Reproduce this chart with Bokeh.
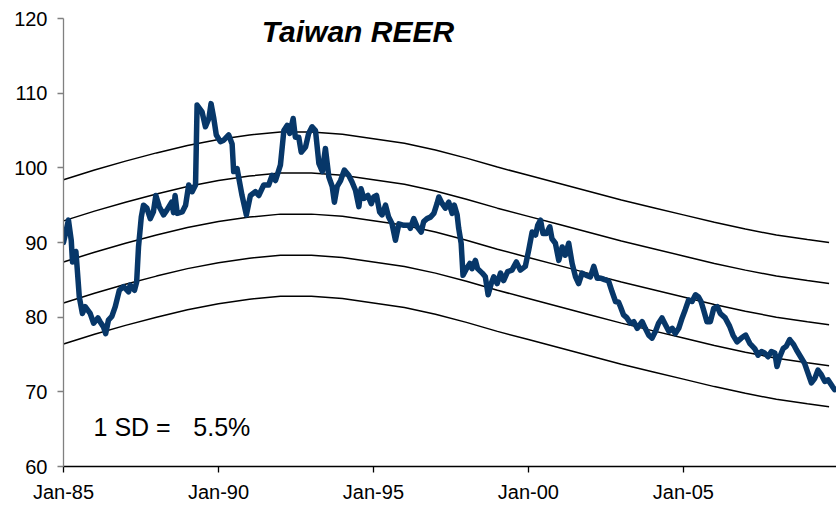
import numpy as np
from bokeh.plotting import figure
from bokeh.models import FixedTicker, Label, Range1d
from bokeh.embed import file_html
from bokeh.resources import INLINE

# ---- data -------------------------------------------------------------
reer_dates = [
    1985.00, 1985.16, 1985.25, 1985.29, 1985.40, 1985.43, 1985.51, 1985.61, 1985.70, 1985.86,
    1985.97, 1986.11, 1986.18, 1986.29, 1986.36, 1986.45, 1986.56, 1986.67, 1986.80, 1986.94,
    1987.10, 1987.15, 1987.29, 1987.36, 1987.42, 1987.51, 1987.58, 1987.69, 1987.80, 1987.90,
    1987.98, 1988.09, 1988.23, 1988.33, 1988.49, 1988.55, 1988.60, 1988.67, 1988.83, 1988.94,
    1989.04, 1989.15, 1989.26, 1989.31, 1989.47, 1989.58, 1989.69, 1989.76, 1989.85, 1989.93,
    1990.06, 1990.17, 1990.33, 1990.44, 1990.49, 1990.60, 1990.76, 1990.90, 1991.03, 1991.19,
    1991.30, 1991.46, 1991.62, 1991.73, 1991.84, 1992.00, 1992.11, 1992.22, 1992.30, 1992.41,
    1992.48, 1992.59, 1992.67, 1992.81, 1992.91, 1993.02, 1993.13, 1993.24, 1993.35, 1993.45,
    1993.56, 1993.67, 1993.74, 1993.83, 1993.94, 1994.06, 1994.20, 1994.31, 1994.42, 1994.53,
    1994.60, 1994.69, 1994.82, 1994.93, 1995.01, 1995.10, 1995.20, 1995.28, 1995.39, 1995.49,
    1995.60, 1995.71, 1995.82, 1995.98, 1996.14, 1996.19, 1996.30, 1996.41, 1996.54, 1996.62,
    1996.73, 1996.84, 1996.95, 1997.05, 1997.11, 1997.22, 1997.32, 1997.43, 1997.54, 1997.61,
    1997.70, 1997.75, 1997.83, 1997.89, 1998.00, 1998.11, 1998.18, 1998.29, 1998.36, 1998.51,
    1998.61, 1998.70, 1998.80, 1998.88, 1998.99, 1999.10, 1999.20, 1999.33, 1999.47, 1999.61,
    1999.74, 1999.90, 2000.01, 2000.12, 2000.23, 2000.30, 2000.39, 2000.47, 2000.58, 2000.69,
    2000.76, 2000.87, 2000.98, 2001.09, 2001.19, 2001.30, 2001.41, 2001.52, 2001.62, 2001.73,
    2001.87, 2002.00, 2002.11, 2002.22, 2002.35, 2002.48, 2002.59, 2002.70, 2002.81, 2002.91,
    2002.97, 2003.07, 2003.18, 2003.29, 2003.40, 2003.51, 2003.67, 2003.77, 2003.88, 2003.99,
    2004.10, 2004.20, 2004.31, 2004.42, 2004.53, 2004.64, 2004.74, 2004.85, 2004.96, 2005.06,
    2005.17, 2005.28, 2005.39, 2005.49, 2005.57, 2005.65, 2005.76, 2005.87, 2005.98, 2006.09,
    2006.19, 2006.35, 2006.49, 2006.60, 2006.73, 2006.87, 2007.01, 2007.14, 2007.30, 2007.41,
    2007.52, 2007.62, 2007.73, 2007.84, 2007.95, 2008.02, 2008.11, 2008.22, 2008.32, 2008.43,
    2008.56, 2008.65, 2008.81, 2008.91, 2009.02, 2009.13, 2009.24, 2009.34, 2009.45, 2009.56,
    2009.67, 2009.81, 2009.88,
]
reer_values = [
    90.0, 93.0, 90.3, 87.4, 88.8, 87.2, 82.7, 80.5, 81.4, 80.5,
    79.2, 79.9, 79.4, 78.7, 77.8, 79.6, 80.1, 81.4, 83.6, 84.1,
    83.4, 84.3, 83.6, 84.7, 89.4, 93.4, 95.0, 94.6, 93.2, 94.1,
    96.3, 94.8, 93.7, 94.3, 95.4, 94.0, 96.3, 93.9, 94.1, 95.0,
    97.7, 96.8, 97.7, 108.4, 107.5, 105.5, 106.6, 108.6, 106.6, 104.4,
    103.5, 103.7, 104.4, 103.2, 99.5, 99.9, 96.3, 93.7, 96.3, 96.8,
    96.3, 97.7, 97.7, 99.0, 98.3, 100.4, 105.0, 105.7, 104.6, 106.6,
    104.1, 104.1, 102.1, 102.8, 104.6, 105.5, 105.0, 100.6, 99.5, 102.6,
    98.8, 97.5, 95.4, 97.5, 98.3, 99.7, 99.0, 98.1, 97.0, 94.8,
    97.2, 95.9, 96.3, 95.2, 96.1, 96.3, 94.1, 93.7, 95.0, 93.4,
    92.5, 90.3, 92.5, 92.3, 92.3, 91.9, 93.2, 92.1, 91.4, 92.8,
    93.2, 93.4, 93.9, 95.2, 96.1, 95.2, 94.6, 95.4, 93.9, 95.0,
    93.7, 91.9, 89.9, 85.6, 86.5, 87.2, 86.5, 87.6, 86.5, 85.9,
    85.4, 83.0, 84.5, 85.4, 84.5, 85.9, 84.9, 86.1, 86.3, 87.4,
    86.3, 86.8, 89.0, 91.4, 91.0, 92.3, 93.0, 91.2, 91.2, 92.1,
    90.5, 89.9, 87.6, 89.4, 88.3, 89.9, 87.2, 85.4, 84.5, 85.9,
    85.6, 85.4, 86.8, 85.2, 85.2, 85.0, 84.8, 83.4, 82.1, 82.0,
    81.4, 80.3, 79.9, 79.2, 79.4, 78.5, 79.4, 78.5, 77.6, 77.2,
    78.1, 79.2, 79.9, 79.0, 78.1, 78.5, 77.8, 78.5, 79.9, 81.0,
    82.3, 82.1, 83.0, 82.7, 82.1, 81.0, 79.4, 79.4, 81.2, 81.4,
    80.5, 79.9, 78.8, 77.6, 76.7, 77.2, 77.6, 76.5, 75.8, 74.9,
    75.4, 75.2, 74.7, 75.4, 75.2, 73.4, 74.7, 75.8, 76.1, 77.0,
    76.3, 75.6, 74.5, 73.8, 72.5, 71.2, 71.8, 72.9, 72.3, 71.4,
    71.6, 70.7, 70.3,
]

# long-run trend (centre of the bands) and the standard deviation
trend_dates = [1985, 1986, 1987, 1988, 1989, 1990, 1991, 1992, 1993, 1994, 1995, 1996, 1997,
               1998, 1999, 2000, 2001, 2002, 2003, 2004, 2005, 2006, 2007, 2008, 2009, 2009.7]
trend_values = [87.4, 88.7, 89.9, 91.0, 92.0, 92.8, 93.4, 93.8, 93.8, 93.5, 92.9, 92.3, 91.4,
                90.3, 89.1, 88.0, 86.9, 85.8, 84.7, 83.7, 82.7, 81.7, 80.8, 80.0, 79.4, 79.0]
sd = 5.5
band_multiples = [-2, -1, 0, 1, 2]

tick_years = [1985, 1990, 1995, 2000, 2005]
tick_labels = ["Jan-85", "Jan-90", "Jan-95", "Jan-00", "Jan-05"]
y_ticks = [60, 70, 80, 90, 100, 110, 120]

title_text = "Taiwan REER"

# ---- figure -----------------------------------------------------------
FONT = "Liberation Sans"

p = figure(width=836, height=505, output_backend="svg", toolbar_location=None,
           x_range=Range1d(1985, 2009.94), y_range=Range1d(60, 120),
           min_border_left=63, min_border_right=0, min_border_top=18, min_border_bottom=38)
p.outline_line_color = None
p.background_fill_color = "white"
p.border_fill_color = "white"
p.xgrid.visible = False
p.ygrid.visible = False

# bands
tc = np.array(trend_values)
for k in band_multiples:
    p.line(trend_dates, tc + k * sd, line_color="black", line_width=1.5)

# REER series
p.line(reer_dates, reer_values, line_color="#073769", line_width=5.5, line_join="round",
       line_cap="round")

# axes
p.xaxis.ticker = FixedTicker(ticks=tick_years)
p.xaxis.major_label_overrides = {t: l for t, l in zip(tick_years, tick_labels)}
p.yaxis.ticker = FixedTicker(ticks=y_ticks)
for ax in (p.xaxis[0], p.yaxis[0]):
    ax.major_label_text_font = FONT
    ax.major_label_text_font_size = "20px"
    ax.major_label_text_color = "black"
    ax.minor_tick_line_color = None
    ax.major_tick_in = 0
    ax.major_tick_out = 6
    ax.axis_line_width = 1.3
    ax.major_tick_line_width = 1.3
p.xaxis.axis_line_color = "black"
p.xaxis.major_tick_line_color = "black"
p.yaxis.axis_line_color = "#808080"
p.yaxis.major_tick_line_color = "#808080"
p.xaxis.major_label_standoff = 8
p.yaxis.major_label_standoff = 10

# texts
p.add_layout(Label(x=1994.5, y=118.3, text=title_text, text_font=FONT, text_font_size="30px",
                   text_font_style="bold italic", text_align="center", text_baseline="middle",
                   text_color="black"))
p.add_layout(Label(x=1985.97, y=65.3, text="1 SD =", text_font=FONT, text_font_size="25px",
                   text_align="left", text_baseline="alphabetic", text_color="black"))
p.add_layout(Label(x=1989.19, y=65.3, text=f"{sd}%", text_font=FONT, text_font_size="25px",
                   text_align="left", text_baseline="alphabetic", text_color="black"))

open("out.html", "w").write(file_html(p, INLINE))
